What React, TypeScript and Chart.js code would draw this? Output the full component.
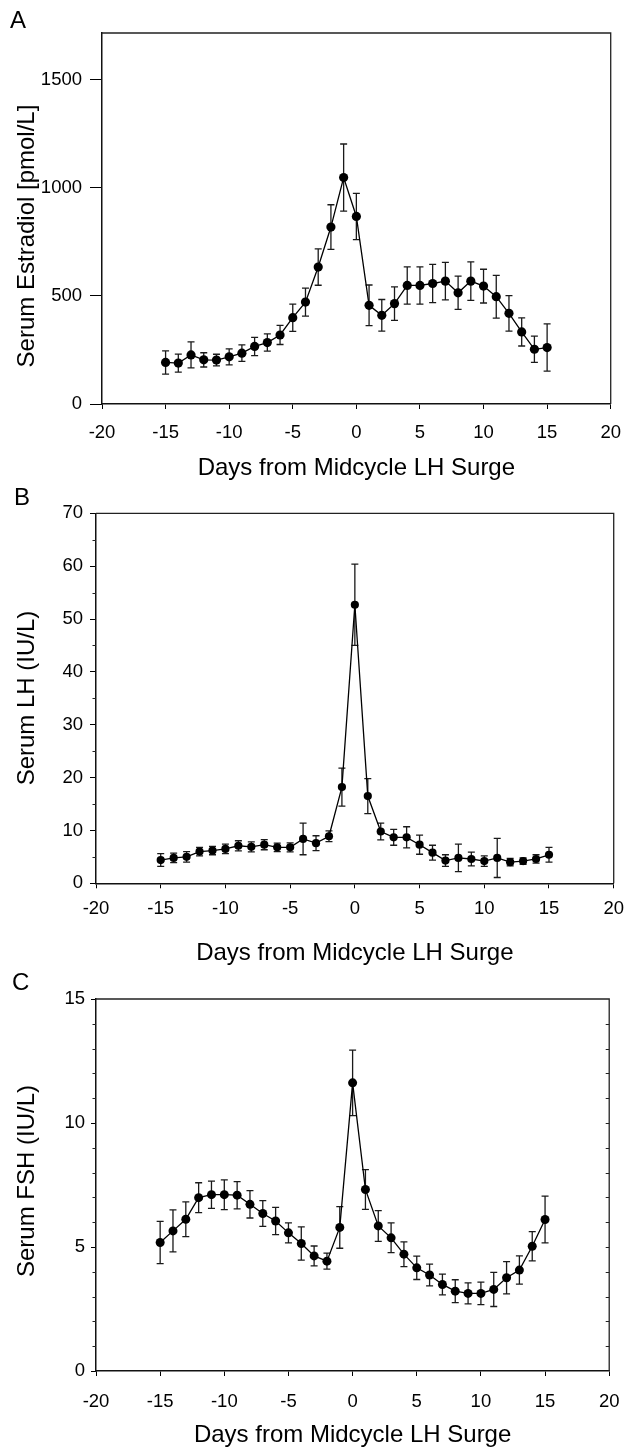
import React, { useEffect, useRef } from "react";
import { Chart, registerables } from "chart.js";

Chart.register(...registerables);

const FONT = '"Liberation Sans", Arial, Helvetica, sans-serif';

// ---------- data ----------
const DAYS = [-15, -14, -13, -12, -11, -10, -9, -8, -7, -6, -5, -4, -3, -2, -1, 0, 1, 2, 3, 4, 5, 6, 7, 8, 9, 10, 11, 12, 13, 14, 15];

const E2_MEAN = [192, 189, 227, 204, 203, 218, 235, 266, 284, 319, 399, 471, 633, 818, 1047, 867, 456, 410, 464, 548, 548, 557, 568, 514, 568, 545, 496, 419, 333, 253, 261];
const E2_ERR = [54, 42, 60, 33, 27, 37, 38, 42, 40, 44, 63, 65, 84, 103, 155, 107, 94, 73, 77, 86, 86, 88, 87, 77, 89, 78, 99, 82, 65, 61, 109];

const LH_MEAN = [4.4, 4.8, 5.0, 6.0, 6.2, 6.5, 7.1, 6.9, 7.3, 6.8, 6.8, 8.4, 7.6, 8.9, 18.2, 52.7, 16.5, 9.8, 8.7, 8.7, 7.3, 5.8, 4.3, 4.8, 4.6, 4.2, 4.8, 4.0, 4.2, 4.6, 5.4];
const LH_ERR = [1.2, 0.9, 1.0, 0.8, 0.8, 0.9, 0.95, 0.95, 0.95, 0.8, 0.85, 3.0, 1.4, 1.0, 3.6, 7.7, 3.3, 1.6, 1.5, 2.0, 1.8, 1.4, 1.1, 2.6, 1.3, 1.0, 3.7, 0.7, 0.6, 0.8, 1.4];

const FSH_MEAN = [5.18, 5.65, 6.12, 6.99, 7.11, 7.11, 7.09, 6.72, 6.35, 6.05, 5.57, 5.14, 4.64, 4.43, 5.79, 11.62, 7.32, 5.85, 5.37, 4.71, 4.16, 3.87, 3.49, 3.22, 3.13, 3.13, 3.29, 3.76, 4.07, 5.03, 6.11];
const FSH_ERR = [0.85, 0.85, 0.7, 0.6, 0.55, 0.6, 0.55, 0.55, 0.52, 0.55, 0.4, 0.67, 0.4, 0.32, 0.84, 1.32, 0.8, 0.62, 0.6, 0.5, 0.47, 0.44, 0.42, 0.46, 0.42, 0.45, 0.69, 0.65, 0.57, 0.59, 0.94];

const X_TICKS = [-20, -15, -10, -5, 0, 5, 10, 15, 20];
const E2_TICKS = [0, 500, 1000, 1500];
const LH_TICKS = [0, 10, 20, 30, 40, 50, 60, 70];
const LH_MINOR = [5, 15, 25, 35, 45, 55, 65];
const FSH_TICKS = [0, 5, 10, 15];
const FSH_MINOR = [1, 2, 3, 4, 6, 7, 8, 9, 11, 12, 13, 14];
const FSH_RIGHT = [1, 2, 3, 4, 5, 6, 7, 8, 9, 10, 11, 12, 13, 14];

const X_TITLE = "Days from Midcycle LH Surge";

// ---------- panel layout specs ----------
type Spec = {
  top: number;
  height: number;
  letter: string;
  letterX: number;
  letterBase: number;
  yTitle: string;
  yTitleX: number;
  yTitleCenter: number;
  mean: number[];
  err: number[];
  yMax: number;
  yTicks: number[];
  yMinor: number[];
  rightTicks: number[];
  pointRadius: number;
  yWidth: number;
  xHeight: number;
  padTop: number;
  padBottom: number;
  yTickLen: number;
  yTickPad: number;
  xTickPad: number;
};

const SPECS: Spec[] = [
  {
    top: 0, height: 480, letter: "A", letterX: 10, letterBase: 28,
    yTitle: "Serum Estradiol [pmol/L]", yTitleX: 27, yTitleCenter: 236,
    mean: E2_MEAN, err: E2_ERR, yMax: 1715, yTicks: E2_TICKS, yMinor: [], rightTicks: [],
    pointRadius: 4.6, yWidth: 102, xHeight: 76, padTop: 33, padBottom: 0,
    yTickLen: 12, yTickPad: 8, xTickPad: 13,
  },
  {
    top: 480, height: 490, letter: "B", letterX: 14, letterBase: 505,
    yTitle: "Serum LH (IU/L)", yTitleX: 27, yTitleCenter: 698,
    mean: LH_MEAN, err: LH_ERR, yMax: 70, yTicks: LH_TICKS, yMinor: LH_MINOR, rightTicks: [],
    pointRadius: 4.1, yWidth: 96, xHeight: 82, padTop: 33.3, padBottom: 4.7,
    yTickLen: 6, yTickPad: 7, xTickPad: 10,
  },
  {
    top: 970, height: 480, letter: "C", letterX: 12, letterBase: 990,
    yTitle: "Serum FSH (IU/L)", yTitleX: 27, yTitleCenter: 1181,
    mean: FSH_MEAN, err: FSH_ERR, yMax: 15, yTicks: FSH_TICKS, yMinor: FSH_MINOR, rightTicks: FSH_RIGHT,
    pointRadius: 4.5, yWidth: 96, xHeight: 76, padTop: 29, padBottom: 3,
    yTickLen: 5, yTickPad: 6, xTickPad: 14.5,
  },
];

function buildChart(canvas: HTMLCanvasElement, spec: Spec) {
  const errorBars = {
    id: "errorBars",
    beforeDatasetsDraw(chart: any) {
      const { ctx } = chart;
      const xs = chart.scales.x;
      const ys = chart.scales.y;
      ctx.save();
      ctx.strokeStyle = "#1a1a1a";
      ctx.lineWidth = 1.3;
      DAYS.forEach((d, i) => {
        const px = xs.getPixelForValue(d);
        const hi = ys.getPixelForValue(spec.mean[i] + spec.err[i]);
        const lo = ys.getPixelForValue(spec.mean[i] - spec.err[i]);
        ctx.beginPath();
        ctx.moveTo(px, hi);
        ctx.lineTo(px, lo);
        ctx.moveTo(px - 3.5, hi);
        ctx.lineTo(px + 3.5, hi);
        ctx.moveTo(px - 3.5, lo);
        ctx.lineTo(px + 3.5, lo);
        ctx.stroke();
      });
      ctx.restore();
    },
  };

  const decor = {
    id: "decor",
    afterDraw(chart: any) {
      const { ctx, chartArea } = chart;
      const ys = chart.scales.y;
      const { left, right, top, bottom } = chartArea;
      ctx.save();
      ctx.strokeStyle = "#222";
      ctx.lineWidth = 1.3;
      ctx.beginPath();
      ctx.moveTo(left, top);
      ctx.lineTo(right, top);
      ctx.lineTo(right, bottom);
      ctx.stroke();
      ctx.lineWidth = 1;
      ctx.beginPath();
      spec.yMinor.forEach((v) => {
        const py = Math.round(ys.getPixelForValue(v)) + 0.5;
        ctx.moveTo(left - 3.5, py);
        ctx.lineTo(left, py);
      });
      spec.rightTicks.forEach((v) => {
        const py = Math.round(ys.getPixelForValue(v)) + 0.5;
        ctx.moveTo(right - 3.5, py);
        ctx.lineTo(right, py);
      });
      ctx.stroke();

      ctx.fillStyle = "#000";
      ctx.font = `24px ${FONT}`;
      ctx.textAlign = "left";
      ctx.textBaseline = "alphabetic";
      ctx.fillText(spec.letter, spec.letterX, spec.letterBase - spec.top);

      ctx.translate(spec.yTitleX, spec.yTitleCenter - spec.top);
      ctx.rotate(-Math.PI / 2);
      ctx.textAlign = "center";
      ctx.textBaseline = "middle";
      ctx.fillText(spec.yTitle, 0, 0);
      ctx.restore();
    },
  };

  return new Chart(canvas, {
    type: "line",
    data: {
      datasets: [
        {
          data: DAYS.map((d, i) => ({ x: d, y: spec.mean[i] })),
          borderColor: "#000",
          borderWidth: 1.3,
          pointRadius: spec.pointRadius,
          pointBackgroundColor: "#000",
          pointBorderColor: "#000",
          pointBorderWidth: 0,
          tension: 0,
          fill: false,
        },
      ],
    },
    options: {
      responsive: false,
      animation: false,
      devicePixelRatio: 1,
      layout: {
        autoPadding: false,
        padding: { left: 0, right: 15, top: spec.padTop, bottom: spec.padBottom },
      },
      plugins: { legend: { display: false }, tooltip: { enabled: false } },
      scales: {
        x: {
          type: "linear",
          min: -20,
          max: 20,
          afterBuildTicks: (s: any) => {
            s.ticks = X_TICKS.map((v) => ({ value: v }));
          },
          afterFit: (s: any) => {
            s.height = spec.xHeight;
          },
          grid: { display: true, drawOnChartArea: false, drawTicks: true, tickLength: 5, color: "#000", tickWidth: 1 },
          border: { display: true, color: "#111", width: 1.5 },
          ticks: {
            color: "#000",
            font: { size: 18.5, family: FONT },
            padding: spec.xTickPad,
            maxRotation: 0,
            autoSkip: false,
            callback: (v: any) => String(v),
          },
          title: {
            display: true,
            text: X_TITLE,
            color: "#000",
            font: { size: 24, family: FONT, lineHeight: 1 },
            padding: 0,
          },
        },
        y: {
          type: "linear",
          min: 0,
          max: spec.yMax,
          afterBuildTicks: (s: any) => {
            s.ticks = spec.yTicks.map((v) => ({ value: v }));
          },
          afterFit: (s: any) => {
            s.width = spec.yWidth;
          },
          grid: { display: true, drawOnChartArea: false, drawTicks: true, tickLength: spec.yTickLen, color: "#000", tickWidth: 1 },
          border: { display: true, color: "#111", width: 1.5 },
          ticks: {
            color: "#000",
            font: { size: 18.5, family: FONT },
            padding: spec.yTickPad,
            autoSkip: false,
            callback: (v: any) => String(v),
          },
          title: { display: false },
        },
      },
    },
    plugins: [errorBars, decor],
  } as any);
}

function Panel({ spec }: { spec: Spec }) {
  const ref = useRef<HTMLCanvasElement | null>(null);
  useEffect(() => {
    if (!ref.current) return;
    const chart = buildChart(ref.current, spec);
    return () => chart.destroy();
  }, [spec]);
  return (
    <canvas
      ref={ref}
      width={634}
      height={spec.height}
      style={{ position: "absolute", left: 0, top: spec.top, width: 634, height: spec.height, display: "block" }}
    />
  );
}

export default function App() {
  return (
    <div style={{ position: "absolute", left: 0, top: 0, width: 634, height: 1450, background: "#fff", overflow: "hidden" }}>
      {SPECS.map((s) => (
        <Panel key={s.letter} spec={s} />
      ))}
    </div>
  );
}
